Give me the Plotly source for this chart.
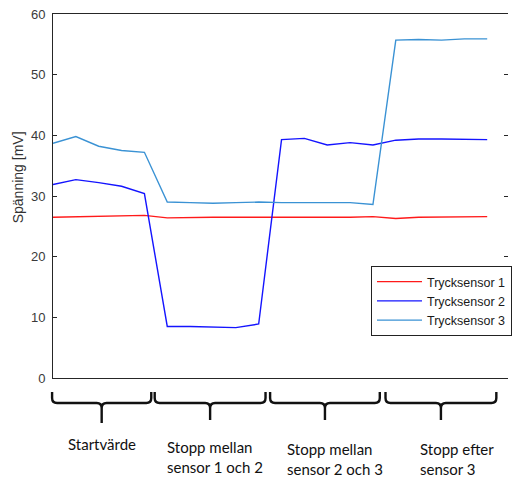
import plotly.graph_objects as go

# Measurement index (20 samples, four phases of five samples each)
sample = list(range(1, 21))

sensor1 = [26.5, 26.6, 26.7, 26.7, 26.8, 26.4, 26.5, 26.5, 26.5, 26.5,
           26.4, 26.5, 26.5, 26.5, 26.6, 26.3, 26.5, 26.5, 26.5, 26.6]
sensor2 = [31.9, 32.7, 32.2, 31.6, 30.4, 8.5, 8.5, 8.4, 8.3, 8.9,
           39.3, 39.5, 38.4, 38.8, 38.4, 39.2, 39.4, 39.4, 39.3, 39.3]
sensor3 = [38.7, 39.8, 38.2, 37.5, 37.2, 29.0, 28.9, 28.8, 28.9, 29.0,
           28.9, 28.9, 28.9, 28.9, 28.6, 55.7, 55.8, 55.7, 55.9, 55.9]

series_names = ["Trycksensor 1", "Trycksensor 2", "Trycksensor 3"]
series_colors = ["#ff1a1a", "#1414ff", "#3a92d4"]

y_ticks = [0, 10, 20, 30, 40, 50, 60]
y_title = "Spänning [mV]"

# Phase groups: (first sample, last sample) spanned by each brace, and its label
phase_spans = [(0.96, 5.3), (5.45, 10.3), (10.5, 15.3), (15.55, 20.4)]
phase_labels = ["Startvärde", "Stopp mellan<br>sensor 1 och 2",
                "Stopp mellan<br>sensor 2 och 3", "Stopp efter<br>sensor 3"]

W, H = 512, 477
ML, MR, MT, MB = 53, 0, 14, 99
X_RANGE = [1, 20.91]
Y_RANGE = [0, 60]
PW, PH = W - ML - MR, H - MT - MB


def px_x(v):
    return ML + (v - X_RANGE[0]) / (X_RANGE[1] - X_RANGE[0]) * PW


def paper_x(px):
    return (px - ML) / PW


def paper_y(py):
    return (H - MB - py) / PH


fig = go.Figure()
for name, vals, col in zip(series_names, [sensor1, sensor2, sensor3], series_colors):
    fig.add_trace(go.Scatter(x=sample, y=vals, mode="lines", name=name,
                             line=dict(color=col, width=1.4)))

# Invisible trace that carries the right-hand tick marks
fig.add_trace(go.Scatter(x=[None], y=[None], yaxis="y2", showlegend=False,
                         hoverinfo="skip"))

# Curly braces under the axis marking each phase
shapes = []
y_top, y_bar, y_stem, r = 392, 403, 420, 5
for i, (a, b) in enumerate(phase_spans):
    xa, xb = px_x(a), px_x(b)
    xm = (xa + xb) / 2
    stem = y_stem + (3 if i == 0 else 0)
    pts = [
        ("M", [(xa, y_top)]),
        ("L", [(xa, y_bar - r)]),
        ("Q", [(xa, y_bar), (xa + r, y_bar)]),
        ("L", [(xm - r, y_bar)]),
        ("Q", [(xm, y_bar), (xm, y_bar + r)]),
        ("L", [(xm, stem)]),
        ("M", [(xm, y_bar + r)]),
        ("Q", [(xm, y_bar), (xm + r, y_bar)]),
        ("L", [(xb - r, y_bar)]),
        ("Q", [(xb, y_bar), (xb, y_bar - r)]),
        ("L", [(xb, y_top)]),
    ]
    path = " ".join(
        cmd + " " + " ".join(f"{paper_x(px):.5f},{paper_y(py):.5f}" for px, py in p)
        for cmd, p in pts
    )
    shapes.append(dict(type="path", xref="paper", yref="paper", path=path,
                       line=dict(color="#111111", width=2.4)))

label_font = dict(family="Lato, Calibri, sans-serif", size=15, color="#111111")
label_pos = [(66, 444), (166, 457), (287, 459), (421, 459)]
annotations = []
for text, (lx, ly) in zip(phase_labels, label_pos):
    annotations.append(dict(text=text, xref="paper", yref="paper",
                            x=paper_x(lx), y=paper_y(ly), xanchor="left",
                            yanchor="middle", align="left", showarrow=False,
                            font=label_font))

annotations.append(dict(text=y_title, xref="paper", yref="paper",
                        x=paper_x(18), y=paper_y(177), textangle=-90,
                        xanchor="center", yanchor="middle", showarrow=False,
                        font=dict(family="Liberation Sans, Arial, sans-serif",
                                  size=14, color="#333333")))

axis_font = dict(family="Liberation Sans, Arial, sans-serif", size=13,
                 color="#3a3a3a")

fig.update_layout(
    width=W, height=H,
    margin=dict(l=ML, r=MR, t=MT, b=MB),
    paper_bgcolor="white", plot_bgcolor="white",
    showlegend=True,
    legend=dict(x=paper_x(374), y=paper_y(266), xanchor="left", yanchor="top",
                bgcolor="white", bordercolor="#222222", borderwidth=1,
                font=dict(family="Liberation Sans, Arial, sans-serif", size=12.5,
                          color="#1a1a1a"),
                tracegroupgap=0, itemwidth=45),
    xaxis=dict(range=X_RANGE, showgrid=False, zeroline=False, showline=True,
               linecolor="#262626", linewidth=1, mirror=True, ticks="",
               showticklabels=False),
    yaxis=dict(range=Y_RANGE, tickvals=y_ticks, showgrid=False, zeroline=False,
               showline=True, linecolor="#262626", linewidth=1, mirror=False,
               ticks="inside", ticklen=4, tickcolor="#262626",
               tickfont=axis_font, ticklabelstandoff=4),
    yaxis2=dict(range=Y_RANGE, overlaying="y", side="right", tickvals=y_ticks,
                showgrid=False, zeroline=False, showline=False,
                ticks="inside", ticklen=4, tickcolor="#262626",
                showticklabels=False),
    shapes=shapes,
    annotations=annotations,
)

fig.write_html("out.html")
